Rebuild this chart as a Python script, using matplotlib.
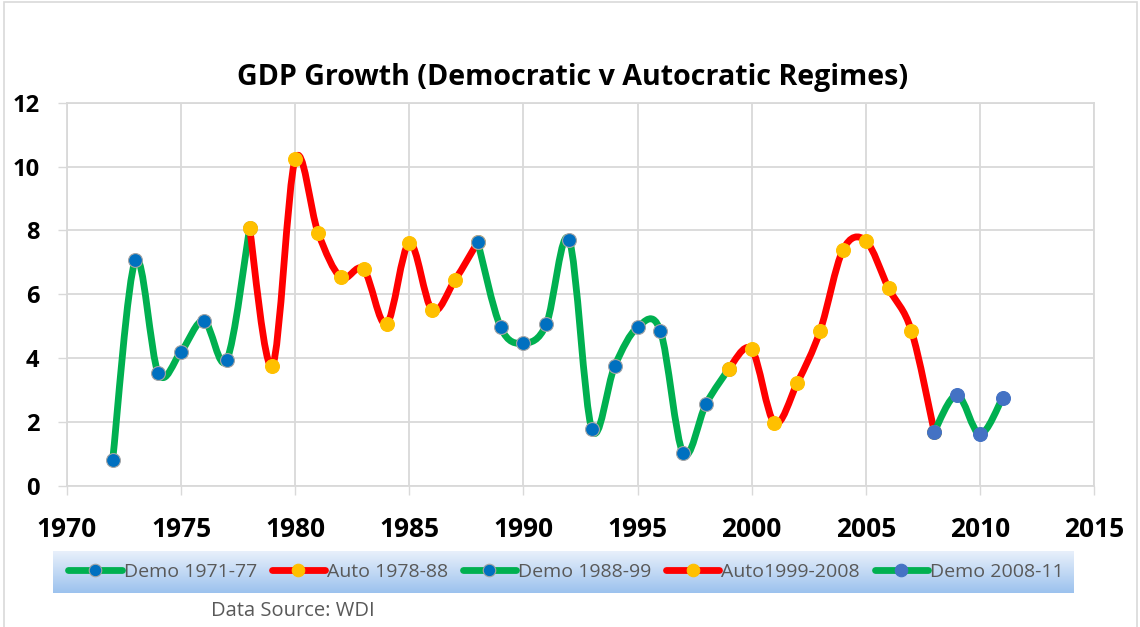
import numpy as np
import matplotlib
matplotlib.use('Agg')
import matplotlib.pyplot as plt
from matplotlib.path import Path
from matplotlib.patches import PathPatch, Rectangle
from matplotlib.lines import Line2D

plt.rcParams['font.family'] = ['Open Sans', 'DejaVu Sans']

# GDP growth (%) by regime period
demo1_years = [1972, 1973, 1974, 1975, 1976, 1977, 1978]
demo1_vals = [0.81, 7.07, 3.53, 4.21, 5.18, 3.94, 8.07]
auto1_years = [1978, 1979, 1980, 1981, 1982, 1983, 1984, 1985, 1986, 1987, 1988]
auto1_vals = [8.07, 3.77, 10.23, 7.93, 6.53, 6.78, 5.07, 7.61, 5.51, 6.45, 7.64]
demo2_years = [1988, 1989, 1990, 1991, 1992, 1993, 1994, 1995, 1996, 1997, 1998, 1999]
demo2_vals = [7.64, 4.97, 4.47, 5.06, 7.71, 1.77, 3.76, 4.97, 4.86, 1.02, 2.57, 3.67]
auto2_years = [1999, 2000, 2001, 2002, 2003, 2004, 2005, 2006, 2007, 2008]
auto2_vals = [3.67, 4.28, 1.98, 3.23, 4.86, 7.39, 7.68, 6.19, 4.86, 1.70]
demo3_years = [2008, 2009, 2010, 2011]
demo3_vals = [1.70, 2.85, 1.62, 2.77]

labels = ['Demo 1971-77', 'Auto 1978-88', 'Demo 1988-99', 'Auto1999-2008', 'Demo 2008-11']

GREEN = '#00B050'
RED = '#FF0000'
BLUE = '#0070C0'
BLUE2 = '#4472C4'
YELLOW = '#FFC000'
GRID = '#D9D9D9'


def smooth_path(xs, ys):
    # excel-like smoothed line: cubic bezier through the points
    pts = np.column_stack([xs, ys]).astype(float)
    n = len(pts)
    verts = [pts[0]]
    codes = [Path.MOVETO]
    for i in range(n - 1):
        p0 = pts[i - 1] if i > 0 else pts[i]
        p1 = pts[i]
        p2 = pts[i + 1]
        p3 = pts[i + 2] if i + 2 < n else pts[i + 1]
        verts += [p1 + (p2 - p0) / 6, p2 - (p3 - p1) / 6, p2]
        codes += [Path.CURVE4] * 3
    return Path(verts, codes)


fig = plt.figure(figsize=(11.4, 6.27), dpi=100)
ax = fig.add_axes([67 / 1140, 1 - 486 / 627, (1094 - 67) / 1140, (486 - 102.7) / 627])
ax.set_zorder(2)

series = [
    (demo1_years, demo1_vals, GREEN, BLUE, '#A5A5A5'),
    (auto1_years, auto1_vals, RED, YELLOW, YELLOW),
    (demo2_years, demo2_vals, GREEN, BLUE, '#A5A5A5'),
    (auto2_years, auto2_vals, RED, YELLOW, YELLOW),
    (demo3_years, demo3_vals, GREEN, BLUE2, BLUE2),
]

handles = []
for k, (xs, ys, lc, mc, ec) in enumerate(series):
    patch = PathPatch(smooth_path(xs, ys), facecolor='none', edgecolor=lc,
                      lw=4.9, capstyle='round', joinstyle='round', zorder=3)
    ax.add_patch(patch)
    ax.plot(xs, ys, ls='none', marker='o', ms=10, mfc=mc, mec=ec, mew=0.8,
            zorder=4 + k)
    handles.append(Line2D([], [], color=lc, lw=4.9, solid_capstyle='round',
                          marker='o', ms=9, mfc=mc, mec=ec, mew=0.8))

ax.set_xlim(1970, 2015)
ax.set_ylim(0, 12)
ax.set_xticks(range(1970, 2016, 5))
ax.set_yticks(range(0, 13, 2))
ax.grid(True, color=GRID, lw=1.3)
ax.set_axisbelow(True)
for s in ax.spines.values():
    s.set_color(GRID)
    s.set_linewidth(1.3)
ax.tick_params(axis='x', length=6.5, width=1, color=GRID, pad=15, labelsize=19)
ax.tick_params(axis='y', length=6.5, width=1, color=GRID, pad=13.5, labelsize=17)
for t in ax.get_xticklabels() + ax.get_yticklabels():
    t.set_fontweight('bold')

fig.text(573 / 1140, 1 - 77 / 627, 'GDP Growth (Democratic v Autocratic Regimes)',
         ha='center', va='center', fontsize=20.6, fontweight='bold')

# legend background with vertical gradient
bg = fig.add_axes([53 / 1140, 1 - 593 / 627, (1074 - 53) / 1140, 42 / 627])
bg.set_zorder(1)
grad = np.linspace(0, 1, 64).reshape(-1, 1)
cmap = matplotlib.colors.LinearSegmentedColormap.from_list('lg', ['#EAF1FB', '#9CC2EE'])
bg.imshow(grad, aspect='auto', cmap=cmap, extent=[0, 1, 0, 1], origin='upper')
bg.axis('off')

ax.legend(handles, labels, ncol=5, loc='center', frameon=False,
          bbox_to_anchor=(566 / 1140, 1 - 572 / 627), bbox_transform=fig.transFigure,
          fontsize=14, labelcolor='#595959', handlelength=2.75, handletextpad=0.1,
          columnspacing=0.75, numpoints=1, borderpad=0)

fig.text(211 / 1140, 1 - 611 / 627, 'Data Source: WDI', ha='left', va='center',
         fontsize=14.5, color='#595959')

# outer chart border
fig.add_artist(Rectangle((4 / 1140, -0.05), 1133 / 1140, 1.05 - 2 / 627,
                         transform=fig.transFigure, fill=False, ec=GRID, lw=1.2))

fig.savefig('out.png', dpi=100)
